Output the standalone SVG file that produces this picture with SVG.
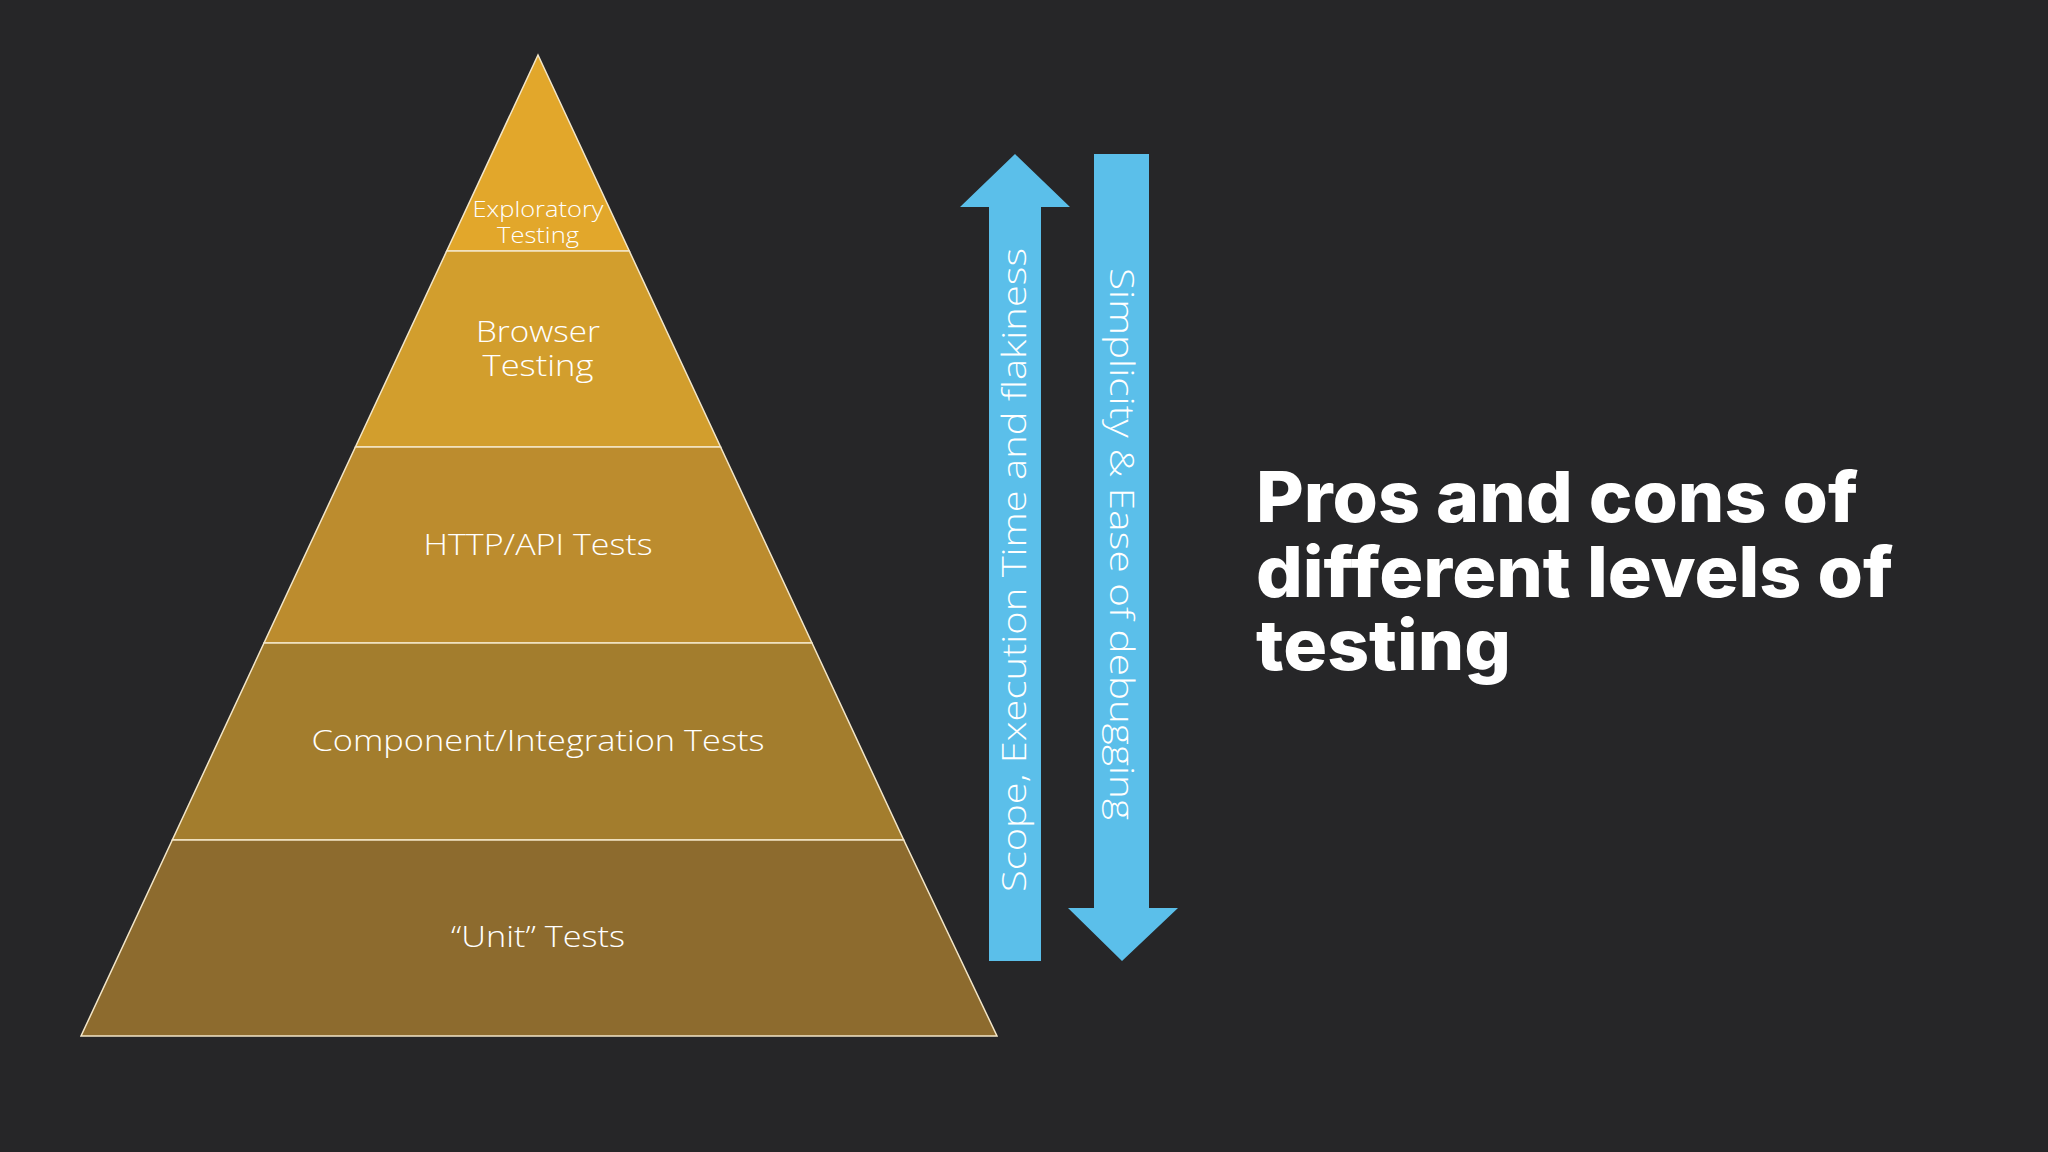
<svg xmlns="http://www.w3.org/2000/svg" width="2048" height="1152" viewBox="0 0 2048 1152">
<defs>
<style>
.b{stroke:#f3e6c8;stroke-width:1.5}
.t{font-family:"Open Sans","Liberation Sans",sans-serif;font-weight:300;fill:#fff;text-anchor:middle}
.a{fill:#5bbfea}
.h{font-family:Inter,"Liberation Sans",sans-serif;font-weight:800;fill:#fff;font-size:70px}
</style>
</defs>
<rect width="2048" height="1152" fill="#262628"/>
<g id="exploratory"><polygon class="b" points="538,55 629.3,251 446.7,251" fill="#e2a72b"/>
<text class="t" x="538" y="217" font-size="22" textLength="131" lengthAdjust="spacingAndGlyphs">Exploratory</text><text class="t" x="538" y="243" font-size="22" textLength="82" lengthAdjust="spacingAndGlyphs">Testing</text></g>
<g id="browser"><polygon class="b" points="446.7,251 629.3,251 720.6,447 355.4,447" fill="#d29e2d"/>
<text class="t" x="538" y="342" font-size="30" textLength="124" lengthAdjust="spacingAndGlyphs">Browser</text><text class="t" x="538" y="376" font-size="30" textLength="111" lengthAdjust="spacingAndGlyphs">Testing</text></g>
<g id="http"><polygon class="b" points="355.4,447 720.6,447 812,643 264,643" fill="#bc8c2e"/>
<text class="t" x="538" y="555" font-size="30" textLength="229" lengthAdjust="spacingAndGlyphs">HTTP/API Tests</text></g>
<g id="component"><polygon class="b" points="264,643 812,643 903.7,840 172.3,840" fill="#a37d2d"/>
<text class="t" x="538" y="751" font-size="30" textLength="453" lengthAdjust="spacingAndGlyphs">Component/Integration Tests</text></g>
<g id="unit"><polygon class="b" points="172.3,840 903.7,840 997,1036 81,1036" fill="#8d6b2e"/>
<text class="t" x="538" y="947" font-size="30" textLength="174" lengthAdjust="spacingAndGlyphs">“Unit” Tests</text></g>
<g id="connectors">
<polygon class="a" points="1015,154 1070,207 1041,207 1041,961 989,961 989,207 960,207"/>
<polygon class="a" points="1094,154 1149,154 1149,908 1178,908 1122,961 1068,908 1094,908"/>
</g>
<g id="labels">
<text class="t" font-size="33" transform="translate(1026,570) rotate(-90)" textLength="644" lengthAdjust="spacingAndGlyphs">Scope, Execution Time and flakiness</text>
<text class="t" font-size="33" transform="translate(1110,544) rotate(90)" textLength="552" lengthAdjust="spacingAndGlyphs">Simplicity &amp; Ease of debugging</text>
</g>
<g id="title">
<text class="h" x="1256" y="522" textLength="602" lengthAdjust="spacingAndGlyphs">Pros and cons of</text>
<text class="h" x="1256" y="597" textLength="637" lengthAdjust="spacingAndGlyphs">different levels of</text>
<text class="h" x="1256" y="670" textLength="255" lengthAdjust="spacingAndGlyphs">testing</text>
</g>
</svg>
